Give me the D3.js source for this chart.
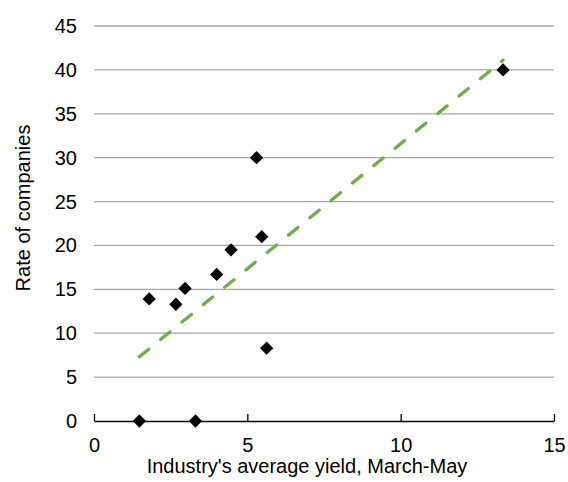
<!DOCTYPE html>
<html><head><meta charset="utf-8">
<script src="https://cdn.jsdelivr.net/npm/d3@7"></script>
<style>body{margin:0;background:#fff}svg{display:block}text{font-family:"Liberation Sans",Arial,sans-serif}</style>
</head><body>
<svg id="c" width="568" height="482"></svg>
<script>
const yieldX = [1.48, 1.80, 2.67, 2.97, 3.31, 4.00, 4.47, 5.30, 5.47, 5.63, 13.34];
const rateY  = [0, 13.9, 13.3, 15.1, 0, 16.7, 19.5, 30.0, 21.0, 8.3, 40.0];
const xTicks = [0, 5, 10, 15];
const yTicks = [0, 5, 10, 15, 20, 25, 30, 35, 40, 45];
const xTitle = "Industry's average yield, March-May";
const yTitle = "Rate of companies";

const FS = 20;
const svg = d3.select("#c");
const x = d3.scaleLinear().domain([0, 15]).range([94, 554]);
const y = d3.scaleLinear().domain([0, 45]).range([421, 26]);

// gridlines
svg.append("g").selectAll("line").data(yTicks.filter(d => d > 0)).join("line")
  .attr("x1", x(0)).attr("x2", x(15))
  .attr("y1", d => y(d)).attr("y2", d => y(d))
  .attr("stroke", "#a6a6a6").attr("stroke-width", 1.3);

// y tick labels
svg.append("g").selectAll("text").data(yTicks).join("text")
  .attr("x", 77).attr("y", d => y(d)).attr("dy", "0.35em")
  .attr("text-anchor", "end").attr("font-size", FS).attr("fill", "#000")
  .text(d => d);

// x axis
const xAxis = d3.axisBottom(x).tickValues(xTicks).tickSize(-7).tickSizeOuter(0).tickPadding(16.5);
const gx = svg.append("g").attr("transform", `translate(0,${y(0)})`).call(xAxis);
gx.select(".domain").attr("stroke", "#000").attr("stroke-width", 1.3);
gx.selectAll(".tick line").attr("stroke", "#000").attr("stroke-width", 1.3);
gx.selectAll(".tick text").attr("font-size", FS).attr("fill", "#000")
  .attr("font-family", "Liberation Sans, Arial, sans-serif");

// trendline (least-squares fit)
const mx = d3.mean(yieldX), my = d3.mean(rateY);
const sxy = d3.sum(yieldX.map((v, i) => (v - mx) * (rateY[i] - my)));
const sxx = d3.sum(yieldX.map(v => (v - mx) * (v - mx)));
const slope = sxy / sxx, icpt = my - slope * mx;
const [x0, x1] = d3.extent(yieldX);
svg.append("line")
  .attr("x1", x(x0)).attr("y1", y(icpt + slope * x0))
  .attr("x2", x(x1)).attr("y2", y(icpt + slope * x1))
  .attr("stroke", "#70ad47").attr("stroke-width", 3.3)
  .attr("stroke-dasharray", "12,15.5").attr("stroke-linecap", "round");

// points
const diamond = d3.symbol().type(d3.symbolSquare).size(88);
svg.append("g").selectAll("path").data(yieldX.map((v, i) => [v, rateY[i]])).join("path")
  .attr("d", diamond)
  .attr("transform", d => `translate(${x(d[0])},${y(d[1])}) rotate(45)`)
  .attr("fill", "#000");

// titles
svg.append("text").attr("x", 307).attr("y", 473)
  .attr("text-anchor", "middle").attr("font-size", FS).text(xTitle);
svg.append("text").attr("transform", `translate(30,208) rotate(-90)`)
  .attr("text-anchor", "middle").attr("font-size", FS).text(yTitle);
</script>
</body></html>
